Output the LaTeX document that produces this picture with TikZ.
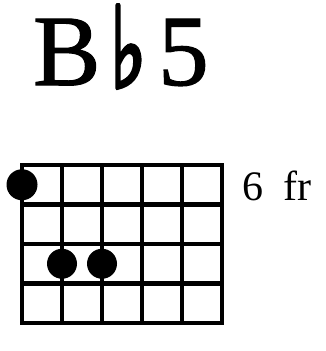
\documentclass[tikz,border=0pt]{standalone}
\usepackage{fontspec}
\setmainfont{Liberation Serif}
\newfontfamily\titlefont[FakeBold=1.2]{Liberation Serif}
\newfontfamily\symfont[FakeBold=4]{DejaVu Sans}

\begin{document}
\begin{tikzpicture}[x=1pt, y=-1pt, line cap=rect, line join=miter]
  \useasboundingbox (0,0) rectangle (326,351);
  % ---------- chord name ----------
  \node[anchor=base west, inner sep=0pt, font=\titlefont\fontsize{101}{101}\selectfont] (root) at (33,85) {B};
  \node[anchor=south west, inner sep=0pt] (flat) at (110,88) {\resizebox{36pt}{82pt}{\symfont ♭}};
  \node[anchor=base west, inner sep=0pt, font=\titlefont\fontsize{101}{101}\selectfont] (five) at (158,85) {5};

  % ---------- fretboard ----------
  \def\gx{22}
  \def\gy{165}
  \def\dx{40}
  \def\dy{39.5}
  \foreach \i in {0,...,5}
    \draw[line width=4.5pt] (\gx+\dx*\i,\gy) -- (\gx+\dx*\i,\gy+4*\dy);
  \foreach \j in {0,...,4}
    \draw[line width=4.5pt] (\gx,\gy+\dy*\j) -- (\gx+5*\dx,\gy+\dy*\j);
  \fill (\gx,\gy+0.5*\dy) circle (15.5);
  \fill (\gx+\dx,\gy+2.5*\dy) circle (15);
  \fill (\gx+2*\dx,\gy+2.5*\dy) circle (15);
  \node[anchor=base west, inner sep=0pt, font=\fontsize{42}{42}\selectfont] (fret) at (242,200) {6\hspace{20pt}fr};
\end{tikzpicture}
\end{document}
